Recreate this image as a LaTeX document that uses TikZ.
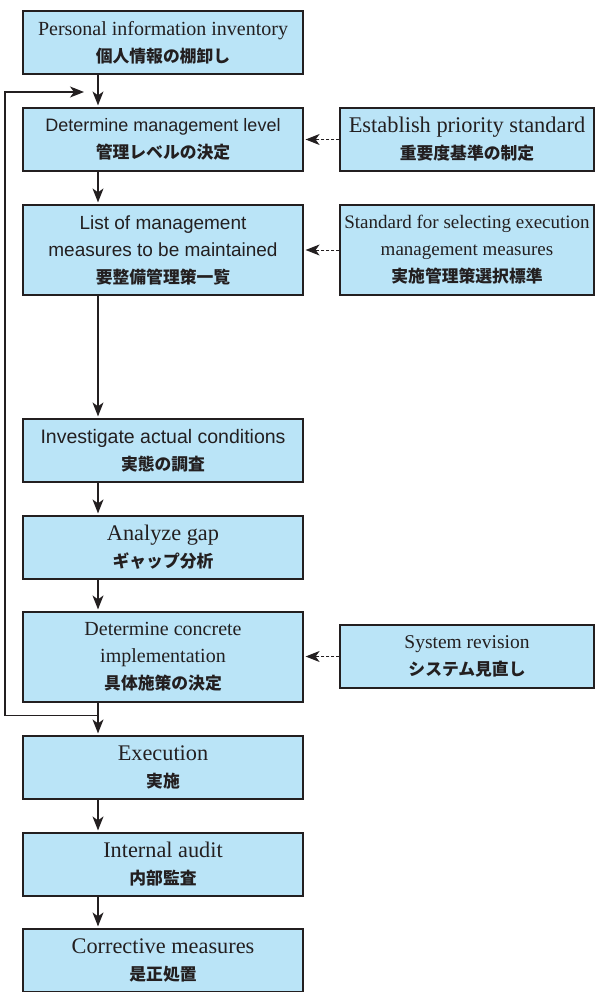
\documentclass[tikz,border=0pt]{standalone}
\usepackage{fontspec}
\setmainfont{Liberation Serif}
\setsansfont{Liberation Sans}
\newfontfamily\jpfont{Noto Sans CJK JP}
\usepackage{tikz}
\usetikzlibrary{arrows.meta}
\definecolor{boxblue}{RGB}{186,228,247}
\definecolor{inkgray}{RGB}{35,31,32}
\newcommand{\jpline}[1]{{\jpfont\bfseries\fontsize{16.8}{27}\selectfont #1}}

\begin{document}
\begin{tikzpicture}
    [x=1pt,y=-1pt,>={Stealth[length=14pt,width=11pt,inset=4pt]},
      main box/.style={rectangle,draw=inkgray,fill=boxblue,line width=1.2pt,text=inkgray,
        minimum width=280pt,minimum height=63pt,inner sep=0pt,align=center},
      side box/.style={main box,minimum width=254pt},
      serif text/.style={font=\rmfamily\fontsize{22.3}{27}\selectfont},
      sans text/.style={font=\sffamily\fontsize{19}{27}\selectfont},
      flow/.style={draw=inkgray,line width=1.2pt,shorten >=2pt},
      hint/.style={draw=inkgray,line width=1pt,dash pattern=on 3pt off 2pt,shorten >=2pt}]
  \useasboundingbox (0,0) rectangle (595,992);

  % main column
  \node[main box,serif text,font=\rmfamily\fontsize{20}{27}\selectfont] (inventory) at (163,42.5)
    {Personal information inventory\\\jpline{個人情報の棚卸し}};
  \node[main box,sans text,font=\sffamily\fontsize{18}{27}\selectfont] (level) at (163,139.5)
    {Determine management level\\\jpline{管理レベルの決定}};
  \node[main box,sans text,minimum height=90pt] (list) at (163,250)
    {List of management\\measures to be maintained\\\jpline{要整備管理策一覧}};
  \node[main box,sans text,font=\sffamily\fontsize{19.5}{27}\selectfont] (investigate) at (163,450.5)
    {Investigate actual conditions\\\jpline{実態の調査}};
  \node[main box,serif text] (gap) at (163,547.5) {Analyze gap\\\jpline{ギャップ分析}};
  \node[main box,serif text,font=\rmfamily\fontsize{20}{27}\selectfont,minimum height=90pt] (concrete) at (163,657)
    {Determine concrete\\implementation\\\jpline{具体施策の決定}};
  \node[main box,serif text] (execution) at (163,767.5) {Execution\\\jpline{実施}};
  \node[main box,serif text] (audit) at (163,864.5) {Internal audit\\\jpline{内部監査}};
  \node[main box,serif text] (corrective) at (163,960.5) {Corrective measures\\\jpline{是正処置}};

  % standards on the right
  \node[side box,serif text,font=\rmfamily\fontsize{22.4}{27}\selectfont] (priority) at (467,139.5)
    {Establish priority standard\\\jpline{重要度基準の制定}};
  \node[side box,serif text,font=\rmfamily\fontsize{19}{27}\selectfont,minimum height=90pt] (selecting) at (467,250)
    {Standard for selecting execution\\management measures\\\jpline{実施管理策選択標準}};
  \node[side box,serif text,font=\rmfamily\fontsize{19.5}{27}\selectfont] (revision) at (467,656.5)
    {System revision\\\jpline{システム見直し}};

  \foreach \from/\to in {
      inventory/level,level/list,list/investigate,investigate/gap,
      gap/concrete,concrete/execution,execution/audit,audit/corrective}
    \draw[flow,->] ([xshift=-65pt]\from.south) -- ([xshift=-65pt]\to.north);

  \foreach \from/\to in {priority/level,selecting/list,revision/concrete}
    \draw[hint,->] (\from.west) -- (\from.west -| \to.east);

  % loop back
  \coordinate (loopstart) at ([xshift=-65pt,yshift=-13pt]concrete.south);
  \coordinate (loopend) at (86,92);
  \draw[flow,->] (loopstart) -- ++(-93,0) |- (loopend);

\end{tikzpicture}
\end{document}
